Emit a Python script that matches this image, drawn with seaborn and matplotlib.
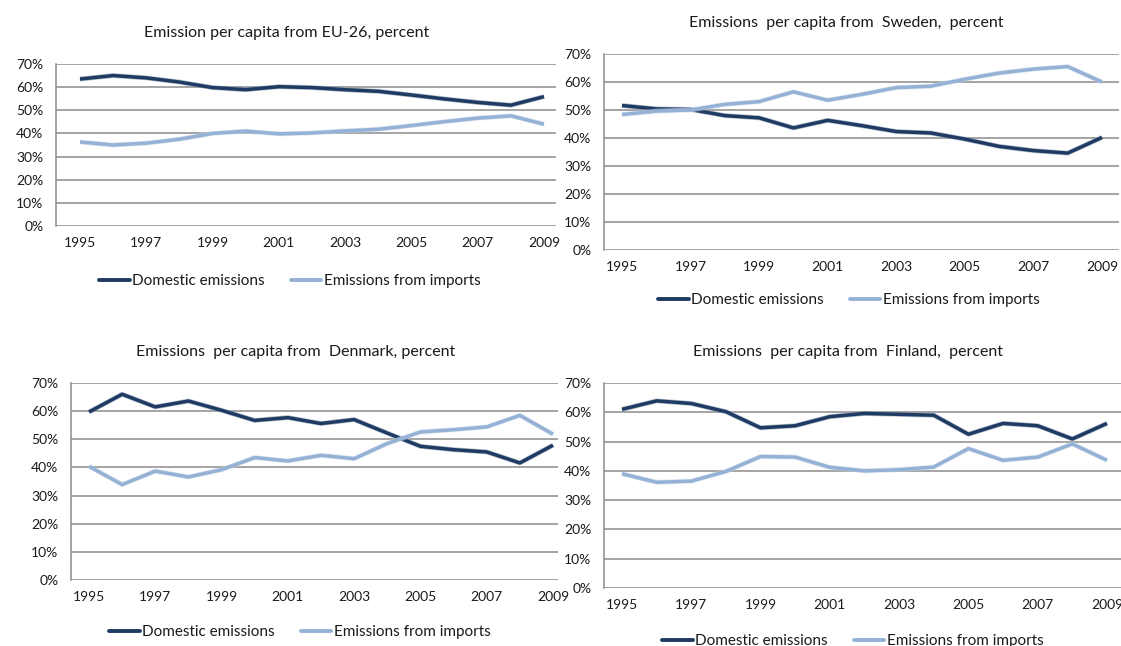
import matplotlib
matplotlib.use("Agg")
import matplotlib.pyplot as plt
import matplotlib.patheffects as pe
import pandas as pd
import seaborn as sns

years = list(range(1995, 2010))
tick_years = [1995, 1997, 1999, 2001, 2003, 2005, 2007, 2009]
series_names = ["Domestic emissions", "Emissions from imports"]

eu_domestic = [63.5, 65.0, 64.0, 62.2, 59.8, 58.9, 60.2, 59.8, 58.9, 58.2, 56.6, 54.9, 53.4, 52.2, 55.9]
eu_imports = [36.3, 35.0, 35.8, 37.5, 40.0, 41.0, 39.8, 40.2, 41.1, 41.8, 43.4, 45.1, 46.6, 47.6, 44.0]

se_domestic = [51.6, 50.4, 50.2, 48.0, 47.2, 43.6, 46.3, 44.4, 42.3, 41.8, 39.6, 37.0, 35.5, 34.6, 40.2]
se_imports = [48.4, 49.6, 50.0, 52.0, 53.0, 56.5, 53.5, 55.6, 58.0, 58.5, 61.0, 63.2, 64.6, 65.5, 60.0]

dk_domestic = [59.7, 66.0, 61.5, 63.6, 60.3, 56.7, 57.7, 55.6, 57.0, 52.2, 47.5, 46.3, 45.5, 41.6, 47.9]
dk_imports = [40.4, 33.9, 38.7, 36.6, 39.2, 43.5, 42.3, 44.3, 43.1, 48.5, 52.6, 53.4, 54.4, 58.5, 51.8]

fi_domestic = [61.0, 63.9, 63.0, 60.2, 54.7, 55.4, 58.5, 59.6, 59.3, 59.0, 52.5, 56.2, 55.4, 50.9, 56.2]
fi_imports = [39.0, 36.1, 36.5, 39.8, 44.9, 44.7, 41.2, 40.0, 40.4, 41.3, 47.6, 43.6, 44.7, 49.2, 43.6]

titles = [
    "Emission per capita from EU-26, percent",
    "Emissions  per capita from  Sweden,  percent",
    "Emissions  per capita from  Denmark, percent",
    "Emissions  per capita from  Finland,  percent",
]
panels_data = [
    (eu_domestic, eu_imports),
    (se_domestic, se_imports),
    (dk_domestic, dk_imports),
    (fi_domestic, fi_imports),
]

W, H = 1121, 646
# layout in pixels: left, right, top(70%), bottom(0%), x of 1995, x of 2009, title (cx, cy), legend (cx, cy)
layout = [
    dict(l=56, r=556, t=64, b=226, x0=80, x1=544, title=(287, 33), leg=(290, 281)),
    dict(l=604, r=1119, t=54, b=250, x0=622, x1=1102, title=(846, 23), leg=(849, 300)),
    dict(l=71, r=558, t=383, b=580, x0=89, x1=553, title=(296, 352), leg=(300, 632)),
    dict(l=604, r=1121, t=383, b=588, x0=622, x1=1107, title=(848, 352), leg=(853, 641)),
]

sns.set_theme(style="white")
plt.rcParams["font.family"] = ["Lato", "DejaVu Sans"]

dark = "#1F3B63"
light = "#95B1D6"
grid_c = "#8C8C8C"
text_c = "#1A1A1A"

fig = plt.figure(figsize=(W / 100, H / 100), dpi=100)
fig.patch.set_facecolor("white")

for (dom, imp), title, lay in zip(panels_data, titles, layout):
    ax = fig.add_axes([lay["l"] / W, 1 - lay["b"] / H,
                       (lay["r"] - lay["l"]) / W, (lay["b"] - lay["t"]) / H])
    df = pd.DataFrame({
        "year": years * 2,
        "value": list(dom) + list(imp),
        "series": [series_names[0]] * len(years) + [series_names[1]] * len(years),
    })
    sns.lineplot(data=df, x="year", y="value", hue="series",
                 palette={series_names[0]: dark, series_names[1]: light},
                 linewidth=2.5, ax=ax, legend=False)
    for ln, halo in zip(ax.get_lines(), ["#8796AD", "#C9D6E8"]):
        ln.set_path_effects([pe.Stroke(linewidth=3.5, foreground=halo, alpha=0.6), pe.Normal()])
        ln.set_solid_capstyle("butt")
        ln.set_solid_joinstyle("round")

    ppy = (lay["x1"] - lay["x0"]) / 14.0
    ax.set_xlim(1995 - (lay["x0"] - lay["l"]) / ppy, 1995 + (lay["r"] - lay["x0"]) / ppy)
    ax.set_ylim(0, 70)
    ax.set_yticks(range(0, 71, 10))
    ax.set_yticklabels([f"{v}%" for v in range(0, 71, 10)])
    ax.set_xticks(tick_years)
    ax.set_xticklabels([str(y) for y in tick_years])
    ax.tick_params(axis="both", length=0, labelsize=10, colors=text_c)
    ax.tick_params(axis="y", pad=9)
    ax.tick_params(axis="x", pad=8)
    ax.set_xlabel("")
    ax.set_ylabel("")
    ax.yaxis.grid(True, color=grid_c, linewidth=1.1)
    ax.xaxis.grid(False)
    ax.set_axisbelow(True)
    for s in ["top", "right", "bottom"]:
        ax.spines[s].set_visible(False)
    ax.spines["left"].set_color(grid_c)
    ax.spines["left"].set_linewidth(1.1)

    fig.text(lay["title"][0] / W, 1 - lay["title"][1] / H, title,
             ha="center", va="center", fontsize=11.5, color=text_c)

    handles = [plt.Line2D([], [], color=dark, linewidth=2.8),
               plt.Line2D([], [], color=light, linewidth=2.8)]
    ax.legend(handles, series_names, ncol=2, frameon=False,
              loc="center", bbox_to_anchor=(lay["leg"][0] / W, 1 - lay["leg"][1] / H),
              bbox_transform=fig.transFigure, fontsize=11, handlelength=2.0,
              handletextpad=0.15, columnspacing=1.7, labelcolor=text_c)

fig.savefig("out.png", dpi=100, facecolor="white")
